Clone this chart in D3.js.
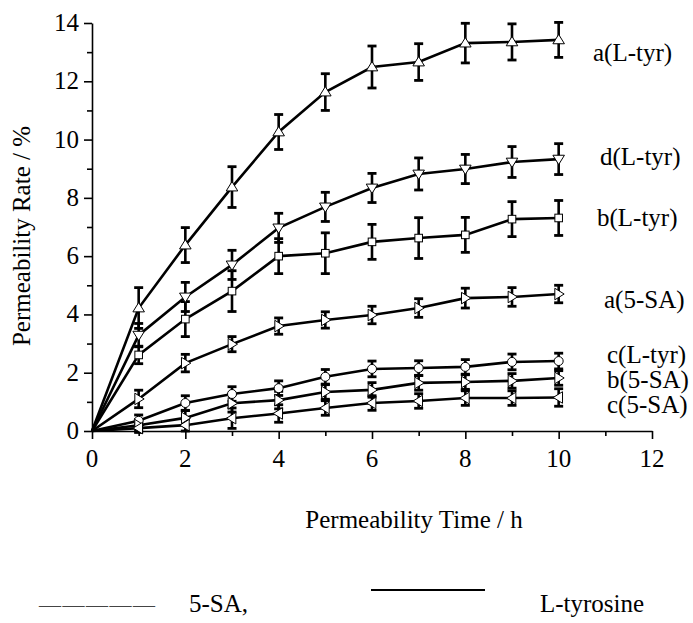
<!DOCTYPE html>
<html><head><meta charset="utf-8">
<script src="https://cdn.jsdelivr.net/npm/d3@7"></script>
<style>body{margin:0;background:#fff}svg{display:block}</style>
</head><body>
<svg id="c" width="693" height="623"></svg>
<script>
const times = [0,1,2,3,4,5,6,7,8,9,10];
const xTicks = [0,2,4,6,8,10,12];
const yTicks = [0,2,4,6,8,10,12,14];

const aLtyr    = [0,4.22,6.38,8.37,10.26,11.63,12.49,12.66,13.31,13.35,13.42];
const aLtyrErr = [0,0.70,0.60,0.70,0.60,0.63,0.72,0.63,0.68,0.62,0.60];
const dLtyr    = [0,3.29,4.60,5.70,6.97,7.69,8.34,8.82,8.99,9.23,9.33];
const dLtyrErr = [0,0.40,0.50,0.50,0.50,0.50,0.50,0.55,0.50,0.53,0.53];
const bLtyr    = [0,2.61,3.84,4.80,6.00,6.10,6.49,6.62,6.73,7.27,7.31];
const bLtyrErr = [0,0.30,0.60,0.70,0.60,0.70,0.60,0.70,0.60,0.60,0.60];
const a5SA     = [0,1.10,2.33,2.98,3.60,3.81,3.98,4.22,4.56,4.60,4.70];
const a5SAErr  = [0,0.30,0.30,0.26,0.28,0.28,0.30,0.32,0.34,0.32,0.30];
const cLtyr    = [0,0.35,0.96,1.27,1.47,1.86,2.13,2.16,2.20,2.37,2.40];
const cLtyrErr = [0,0.20,0.25,0.25,0.25,0.25,0.27,0.25,0.25,0.27,0.27];
const b5SA     = [0,0.20,0.45,0.95,1.06,1.34,1.41,1.65,1.68,1.72,1.82];
const b5SAErr  = [0,0.20,0.25,0.30,0.30,0.25,0.25,0.25,0.25,0.25,0.25];
const c5SA     = [0,0.10,0.20,0.44,0.60,0.79,0.96,1.03,1.13,1.13,1.15];
const c5SAErr  = [0,0.15,0.20,0.35,0.30,0.25,0.25,0.25,0.25,0.25,0.30];

const seriesNames = ["a(L-tyr)","d(L-tyr)","b(L-tyr)","a(5-SA)","c(L-tyr)","b(5-SA)","c(5-SA)"];
const seriesVals = [aLtyr,dLtyr,bLtyr,a5SA,cLtyr,b5SA,c5SA];
const seriesErrs = [aLtyrErr,dLtyrErr,bLtyrErr,a5SAErr,cLtyrErr,b5SAErr,c5SAErr];
const seriesMarkers = ["up","down","square","right","circle","right","left"];
const labelPos = [[593,61],[600,165],[597,226],[604,308],[607,363],[607,388],[607,413]];

const FONT = "Liberation Serif";
const FS = 25;
const svg = d3.select("#c");
const x = d3.scaleLinear().domain([0,12]).range([92,652]);
const y = d3.scaleLinear().domain([0,14]).range([431,23]);

function txt(g){ return g.append("text").style("font-family",FONT).attr("font-size",FS).attr("fill","#000"); }

// axes
const xa = svg.append("g").attr("transform","translate(0,431)")
  .call(d3.axisBottom(x).tickValues(d3.range(0,13,1)).tickSize(0).tickFormat(""));
xa.select(".domain").attr("stroke","#000").attr("stroke-width",1.6);
xa.selectAll(".tick line").attr("y2",d=>d%2===0?8:5).attr("stroke","#000").attr("stroke-width",1.6);
const ya = svg.append("g").attr("transform","translate(92,0)")
  .call(d3.axisLeft(y).tickValues(d3.range(0,15,1)).tickSize(0).tickFormat(""));
ya.select(".domain").attr("stroke","#000").attr("stroke-width",1.6);
ya.selectAll(".tick line").attr("x2",d=>d%2===0?-8:-5).attr("stroke","#000").attr("stroke-width",1.6);

xTicks.forEach(d=>txt(svg).attr("x",x(d)).attr("y",467).attr("text-anchor","middle").text(d));
yTicks.forEach(d=>txt(svg).attr("x",79).attr("y",y(d)+8).attr("text-anchor","end").text(d));

txt(svg).attr("x",414).attr("y",528).attr("text-anchor","middle").text("Permeability Time / h");
txt(svg).attr("transform","translate(30,236) rotate(-90)").attr("text-anchor","middle").text("Permeability Rate / %");

const plot = svg.append("g");
const line = d3.line().x((d,i)=>x(times[i])).y(d=>y(d));

// error bars
seriesVals.forEach((vals,si)=>{
  const errs = seriesErrs[si];
  const g = plot.append("g").attr("stroke","#000");
  times.forEach((t,i)=>{
    if(i===0) return;
    const cx = x(t), y1 = y(vals[i]+errs[i]), y2 = y(vals[i]-errs[i]);
    g.append("line").attr("x1",cx).attr("x2",cx).attr("y1",y1).attr("y2",y2).attr("stroke-width",2.6);
    g.append("line").attr("x1",cx-4.5).attr("x2",cx+4.5).attr("y1",y1).attr("y2",y1).attr("stroke-width",2.8);
    g.append("line").attr("x1",cx-4.5).attr("x2",cx+4.5).attr("y1",y2).attr("y2",y2).attr("stroke-width",2.8);
  });
});
// lines
seriesVals.forEach(vals=>{
  plot.append("path").datum(vals).attr("d",line).attr("fill","none").attr("stroke","#000").attr("stroke-width",2.6);
});
// markers
function marker(g,type,cx,cy){
  const s=5.5;
  let el;
  if(type==="circle") el=g.append("circle").attr("cx",cx).attr("cy",cy).attr("r",4.5);
  else if(type==="square") el=g.append("rect").attr("x",cx-3.8).attr("y",cy-3.8).attr("width",7.6).attr("height",7.6);
  else {
    let pts;
    if(type==="up") pts=[[0,-s],[s*1.05,s*0.7],[-s*1.05,s*0.7]];
    if(type==="down") pts=[[0,s],[s*1.05,-s*0.7],[-s*1.05,-s*0.7]];
    if(type==="right") pts=[[s,0],[-s*0.7,s*1.05],[-s*0.7,-s*1.05]];
    if(type==="left") pts=[[-s,0],[s*0.7,s*1.05],[s*0.7,-s*1.05]];
    el=g.append("polygon").attr("points",pts.map(p=>[cx+p[0],cy+p[1]].join(",")).join(" "));
  }
  el.attr("fill","#fff").attr("stroke","#000").attr("stroke-width",1);
}
seriesVals.forEach((vals,si)=>{
  const g = plot.append("g");
  times.forEach((t,i)=>{ if(i>0) marker(g,seriesMarkers[si],x(t),y(vals[i])); });
});

// series labels
seriesNames.forEach((d,i)=>txt(svg).attr("x",labelPos[i][0]).attr("y",labelPos[i][1]).text(d));

// bottom legend
txt(svg).attr("x",39).attr("y",612).attr("font-size",22).attr("letter-spacing",1.5).attr("fill","#444").text("—————");
txt(svg).attr("x",189).attr("y",612).text("5-SA,");
svg.append("line").attr("x1",371).attr("x2",485).attr("y1",590).attr("y2",590).attr("stroke","#000").attr("stroke-width",2);
txt(svg).attr("x",540).attr("y",612).text("L-tyrosine");
</script>
</body></html>
